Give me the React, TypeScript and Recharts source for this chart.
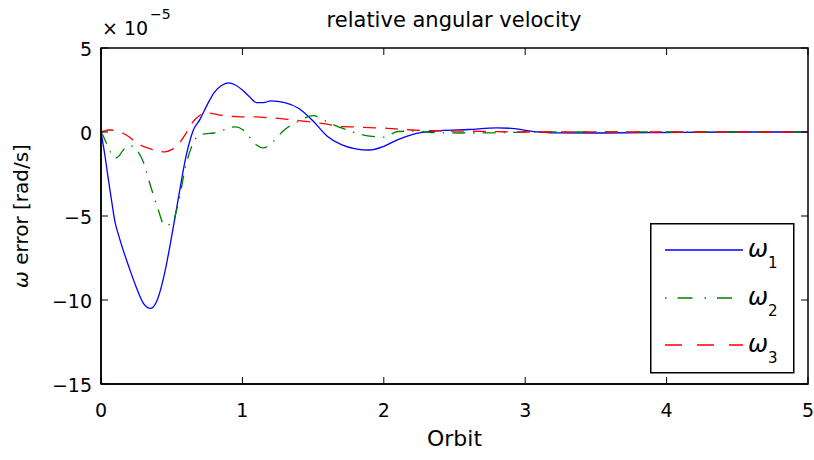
import { LineChart, Line, XAxis, YAxis, Legend, Label } from 'recharts';

// values are in units of 1e-5 rad/s (exponent shown at top-left, like MATLAB)
const orbit = [
  0, 0.025, 0.05, 0.075, 0.1, 0.125, 0.15, 0.2, 0.25, 0.3, 0.35, 0.4, 0.45, 0.5, 0.55, 0.6,
  0.65, 0.7, 0.75, 0.8, 0.85, 0.9, 0.95, 1.0, 1.05, 1.1, 1.15, 1.2, 1.3, 1.4, 1.5, 1.6, 1.7,
  1.8, 1.9, 2.0, 2.1, 2.2, 2.4, 2.6, 2.8, 2.9, 3.0, 3.1, 3.2, 3.5, 4.0, 4.5, 5.0,
];

const omega1 = [
  0, -1.25, -2.7, -4.1, -5.4, -6.15, -6.85, -8.1, -9.25, -10.2, -10.5, -9.95, -8.4, -6.2, -3.8, -1.5,
  0.05, 0.75, 1.6, 2.35, 2.75, 2.92, 2.8, 2.5, 2.1, 1.75, 1.75, 1.85, 1.75, 1.4, 0.65, -0.25, -0.75,
  -1.0, -1.07, -0.85, -0.45, -0.15, 0.08, 0.15, 0.24, 0.22, 0.1, 0.0, -0.05, -0.06, -0.03, 0, 0,
];

const omega2 = [
  0, -0.4, -0.9, -1.3, -1.55, -1.45, -1.15, -0.8, -1.05, -1.8, -3.2, -4.5, -5.55, -5.45, -4.1, -2.0,
  -0.7, -0.15, -0.1, -0.06, 0.05, 0.25, 0.3, 0.15, -0.3, -0.77, -0.95, -0.7, 0.15, 0.65, 0.97, 0.6, 0.24,
  -0.05, -0.25, -0.3, 0.03, 0.05, -0.05, -0.06, -0.05, -0.03, 0, 0, 0, 0, 0, 0, 0,
];

const omega3 = [
  0, 0.06, 0.12, 0.12, 0.08, 0.02, -0.05, -0.3, -0.65, -0.85, -1.0, -1.13, -1.18, -1.05, -0.7, -0.1,
  0.6, 1.0, 1.13, 1.08, 1.0, 0.95, 0.92, 0.9, 0.9, 0.9, 0.87, 0.85, 0.77, 0.68, 0.58, 0.47, 0.32,
  0.3, 0.26, 0.23, 0.17, 0.12, 0.07, 0.05, 0.02, 0.01, 0, 0, 0, 0, 0, 0, 0,
];

const xTicks = [0, 1, 2, 3, 4, 5];
const yTicks = [-15, -10, -5, 0, 5];
const X_DOMAIN = [0, 5];
const Y_DOMAIN = [-15, 5];

const data = orbit.map((t, i) => ({ orbit: t, w1: omega1[i], w2: omega2[i], w3: omega3[i] }));

const FONT = '"DejaVu Sans", sans-serif';
const WIDTH = 814;
const HEIGHT = 460;
const Y_AXIS_W = 101;
const X_AXIS_H = 76;
const MARGIN = { top: 48, right: 6, bottom: 0, left: 0 };

// plot box (same numbers the chart uses for its offsets)
const PLOT_LEFT = MARGIN.left + Y_AXIS_W;
const PLOT_RIGHT = WIDTH - MARGIN.right;
const PLOT_TOP = MARGIN.top;
const PLOT_BOTTOM = HEIGHT - MARGIN.bottom - X_AXIS_H;
const TICK_LEN = 7;

const SERIES = [
  { key: 'w1', sub: '1', color: '#0000ff', dash: undefined, legendDash: undefined },
  { key: 'w2', sub: '2', color: '#008000', dash: '13 8 1.5 8', legendDash: '1.5 11 15 12' },
  { key: 'w3', sub: '3', color: '#ff0000', dash: '13 9', legendDash: '17 15' },
];

const fmt = (v: number) => (v < 0 ? '\u2212' + Math.abs(v) : String(v));

function BottomTick(props: any) {
  const { x, y, payload } = props;
  return (
    <text x={x} y={y + 33} textAnchor="middle" fontFamily={FONT} fontSize={19} fill="#000">
      {fmt(payload.value)}
    </text>
  );
}

function LeftTick(props: any) {
  const { x, y, payload } = props;
  return (
    <text x={x - 9} y={y + 8} textAnchor="end" fontFamily={FONT} fontSize={19} fill="#000">
      {fmt(payload.value)}
    </text>
  );
}

function YTitle() {
  const cx = 21;
  const cy = 216;
  return (
    <text
      x={cx}
      y={cy}
      transform={`rotate(-90 ${cx} ${cy})`}
      textAnchor="middle"
      dominantBaseline="central"
      fontFamily={FONT}
      fontSize={20}
      fill="#000"
    >
      <tspan fontStyle="italic">ω</tspan> error [rad/s]
    </text>
  );
}

function LegendBox() {
  const rows = [27, 75, 122];
  return (
    <svg width={145} height={151} style={{ display: 'block' }}>
      <rect x={0.75} y={0.75} width={143} height={149} fill="#fff" stroke="#000" strokeWidth={1.5} />
      {SERIES.map((s, i) => (
        <g key={s.key}>
          <line x1={15} x2={93} y1={rows[i]} y2={rows[i]} stroke={s.color} strokeWidth={1.3} strokeDasharray={s.legendDash} />
          <text x={98} y={rows[i] + 7} fontFamily={FONT} fontSize={24} fill="#000">
            <tspan fontStyle="italic">ω</tspan>
            <tspan fontSize={15} dy={11}>{s.sub}</tspan>
          </text>
        </g>
      ))}
    </svg>
  );
}

// MATLAB "box on" frame with inward ticks on all four sides
function AxesBox() {
  const px = (v: number) => PLOT_LEFT + ((v - X_DOMAIN[0]) / (X_DOMAIN[1] - X_DOMAIN[0])) * (PLOT_RIGHT - PLOT_LEFT);
  const py = (v: number) => PLOT_BOTTOM - ((v - Y_DOMAIN[0]) / (Y_DOMAIN[1] - Y_DOMAIN[0])) * (PLOT_BOTTOM - PLOT_TOP);
  return (
    <g stroke="#000" fill="none">
      {xTicks.map((t) => (
        <g key={'x' + t} strokeWidth={1}>
          <line x1={px(t)} x2={px(t)} y1={PLOT_BOTTOM} y2={PLOT_BOTTOM - TICK_LEN} />
          <line x1={px(t)} x2={px(t)} y1={PLOT_TOP} y2={PLOT_TOP + TICK_LEN} />
        </g>
      ))}
      {yTicks.map((t) => (
        <g key={'y' + t} strokeWidth={1}>
          <line x1={PLOT_LEFT} x2={PLOT_LEFT + TICK_LEN} y1={py(t)} y2={py(t)} />
          <line x1={PLOT_RIGHT} x2={PLOT_RIGHT - TICK_LEN} y1={py(t)} y2={py(t)} />
        </g>
      ))}
      <rect x={PLOT_LEFT} y={PLOT_TOP} width={PLOT_RIGHT - PLOT_LEFT} height={PLOT_BOTTOM - PLOT_TOP} strokeWidth={1.5} />
    </g>
  );
}

export default function App() {
  return (
    <div style={{ position: 'absolute', left: 0, top: 0, width: WIDTH, height: HEIGHT, background: '#fff' }}>
      <LineChart width={WIDTH} height={HEIGHT} data={data} margin={MARGIN}>
        <XAxis
          dataKey="orbit"
          type="number"
          domain={X_DOMAIN}
          ticks={xTicks}
          height={X_AXIS_H}
          tickSize={0}
          tickMargin={0}
          tickLine={false}
          tick={<BottomTick />}
          axisLine={{ stroke: '#000', strokeWidth: 1.5 }}
        >
          <Label value="Orbit" position="center" dy={16} fontFamily={FONT} fontSize={22} fill="#000" />
        </XAxis>
        <YAxis
          type="number"
          domain={Y_DOMAIN}
          ticks={yTicks}
          width={Y_AXIS_W}
          tickSize={0}
          tickMargin={0}
          tickLine={false}
          tick={<LeftTick />}
          axisLine={{ stroke: '#000', strokeWidth: 1.5 }}
          label={<YTitle />}
        />
        <Legend
          layout="vertical"
          verticalAlign="middle"
          align="center"
          content={<LegendBox />}
          wrapperStyle={{ left: 650, top: 223, width: 145, height: 151 }}
        />
        {SERIES.map((s) => (
          <Line
            key={s.key}
            dataKey={s.key}
            type="monotone"
            stroke={s.color}
            strokeWidth={1.3}
            strokeDasharray={s.dash}
            dot={false}
            activeDot={false}
            isAnimationActive={false}
          />
        ))}
      </LineChart>
      <svg width={WIDTH} height={HEIGHT} style={{ position: 'absolute', left: 0, top: 0, pointerEvents: 'none' }}>
        <AxesBox />
        <text x={454} y={27} textAnchor="middle" fontFamily={FONT} fontSize={21} fill="#000">
          relative angular velocity
        </text>
        <text x={102} y={35} fontFamily={FONT} fontSize={19} fill="#000">
          × 10
        </text>
        <text x={150} y={19} fontFamily={FONT} fontSize={14} fill="#000">
          −5
        </text>
      </svg>
    </div>
  );
}
